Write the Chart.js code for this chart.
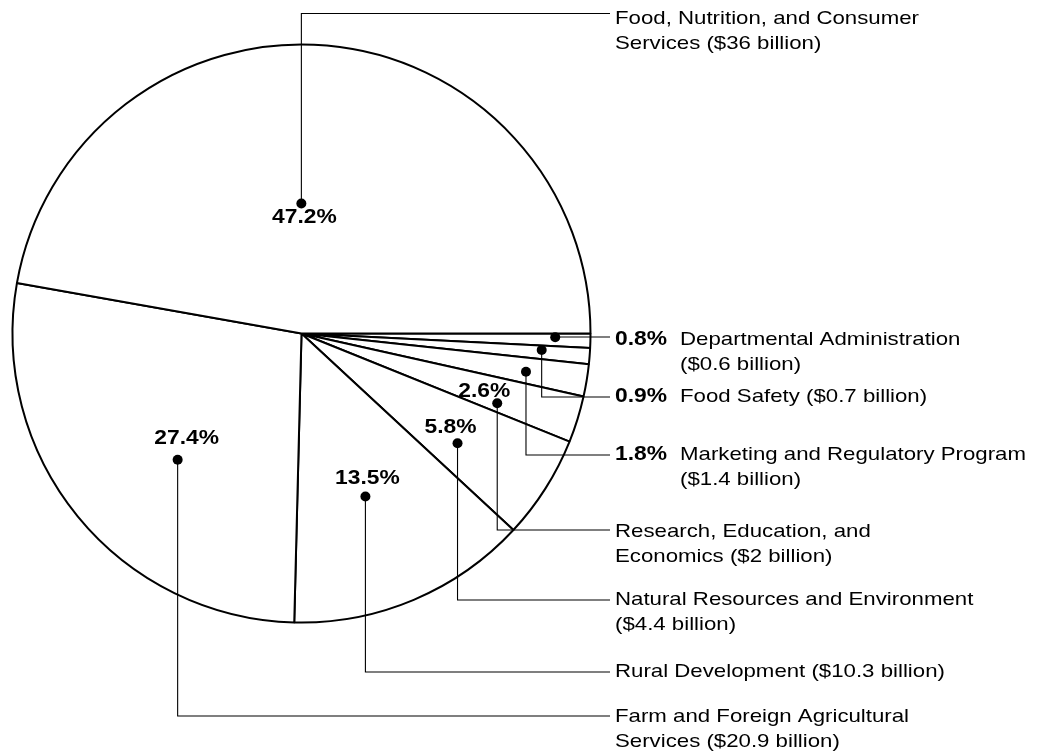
<!DOCTYPE html>
<html><head><meta charset="utf-8">
<script src="https://cdn.jsdelivr.net/npm/chart.js@4"></script>
<style>html,body{margin:0;padding:0;background:#fff;}#wrap{width:1040px;height:755px;}</style>
</head><body><div id="wrap"><canvas id="c" width="1040" height="755"></canvas></div>
<script>
// ---- data (clockwise from 3 o'clock) ----
const categories = [
  "Departmental Administration",
  "Food Safety",
  "Marketing and Regulatory Program",
  "Research, Education, and Economics",
  "Natural Resources and Environment",
  "Rural Development",
  "Farm and Foreign Agricultural Services",
  "Food, Nutrition, and Consumer Services"
];
const shares = [0.8, 0.9, 1.8, 2.6, 5.8, 13.5, 27.4, 47.2];
const billions = [0.6, 0.7, 1.4, 2, 4.4, 10.3, 20.9, 36];

// ---- annotation layout (styling only) ----
// t: position of dot within slice angle, r: fraction of radius,
// lineY: y of leader elbow, textY: first text line centre,
// inline: percentage printed in the label text, pct: offset of percent label from dot,
// wrap: number of words on the first line (0 = single line)
const annotLayout = [
  {t:0.30, r:0.878, lineY:337,  textY:340,   inline:true, wrap:2},
  {t:0.32, r:0.833, lineY:397,  textY:397,   inline:true, wrap:0},
  {t:0.55, r:0.788, lineY:455,  textY:454.5, inline:true, wrap:4},
  {t:0.75, r:0.719, lineY:530,  textY:531.5, pct:[-13,-12], wrap:3},
  {t:0.63, r:0.660, lineY:600,  textY:600,   pct:[-7,-16],  wrap:4},
  {t:0.53, r:0.606, lineY:672,  textY:672,   pct:[2,-18],   wrap:0},
  {t:0.436,r:0.612, lineY:716,  textY:716.5, pct:[9,-21],   wrap:4},
  {t:0.47, r:0.450, lineY:13.5, textY:18.5,  pct:[3,14],    wrap:4}
];
const FONT = '"Liberation Sans", Arial, Helvetica, sans-serif';
const SX = 1.17;      // horizontal stretch of the original typeface
const LINE_END = 610, PCT_X = 615, NAME_X = 680, LINE_H = 25;

function txt(ctx, s, x, y, font, align){
  ctx.save();
  ctx.font = font;
  ctx.textAlign = align || 'left';
  ctx.textBaseline = 'middle';
  ctx.translate(x, y);
  ctx.scale(SX, 1);
  ctx.fillText(s, 0, 0);
  ctx.restore();
}

const annot = {
  id: 'annot',
  afterDraw(chart){
    const ctx = chart.ctx;
    const arcs = chart.getDatasetMeta(0).data;
    ctx.save();
    ctx.fillStyle = '#000';
    ctx.strokeStyle = '#000';
    arcs.forEach((arc, i) => {
      const L = annotLayout[i];
      const p = arc.getProps(['x','y','startAngle','endAngle','outerRadius'], true);
      const a = p.startAngle + L.t * (p.endAngle - p.startAngle);
      const rr = L.r * p.outerRadius;
      const dx = p.x + Math.cos(a) * rr;
      const dy = p.y + Math.sin(a) * rr;
      // leader
      ctx.lineWidth = 1.1;
      ctx.beginPath();
      ctx.moveTo(dx, dy);
      ctx.lineTo(dx, L.lineY);
      ctx.lineTo(LINE_END, L.lineY);
      ctx.stroke();
      // dot
      ctx.beginPath();
      ctx.arc(dx, dy, 5, 0, Math.PI * 2);
      ctx.fill();
      // texts
      const pctStr = shares[i].toFixed(1) + '%';
      const words = categories[i].split(' ');
      const amount = '($' + billions[i] + ' billion)';
      let lines;
      if (L.wrap) {
        const first = words.slice(0, L.wrap).join(' ');
        const rest = words.slice(L.wrap).join(' ');
        lines = [first, (rest ? rest + ' ' : '') + amount];
      } else {
        lines = [categories[i] + ' ' + amount];
      }
      const nameX = L.inline ? NAME_X : PCT_X;
      if (L.inline) {
        txt(ctx, pctStr, PCT_X, L.textY, 'bold 19.5px ' + FONT, 'left');
      } else {
        txt(ctx, pctStr, dx + L.pct[0], dy + L.pct[1], 'bold 19.5px ' + FONT, 'center');
      }
      lines.forEach((s, k) => txt(ctx, s, nameX, L.textY + k * LINE_H, '19px ' + FONT, 'left'));
    });
    ctx.restore();
  }
};

const cx = 301.5, cy = 333.5, R = 289, BW = 2;
const side = 2 * R + BW;
new Chart(document.getElementById('c'), {
  type: 'pie',
  data: {
    labels: categories,
    datasets: [{
      data: shares,
      backgroundColor: '#ffffff',
      borderColor: '#000000',
      borderWidth: BW,
      hoverOffset: 0
    }]
  },
  options: {
    responsive: false,
    devicePixelRatio: 1,
    animation: false,
    rotation: 90,
    layout: {padding: {
      left: cx - side / 2,
      top: cy - side / 2,
      right: 1040 - (cx + side / 2),
      bottom: 755 - (cy + side / 2)
    }},
    plugins: {legend: {display: false}, tooltip: {enabled: false}}
  },
  plugins: [annot]
});
</script>
</body></html>
